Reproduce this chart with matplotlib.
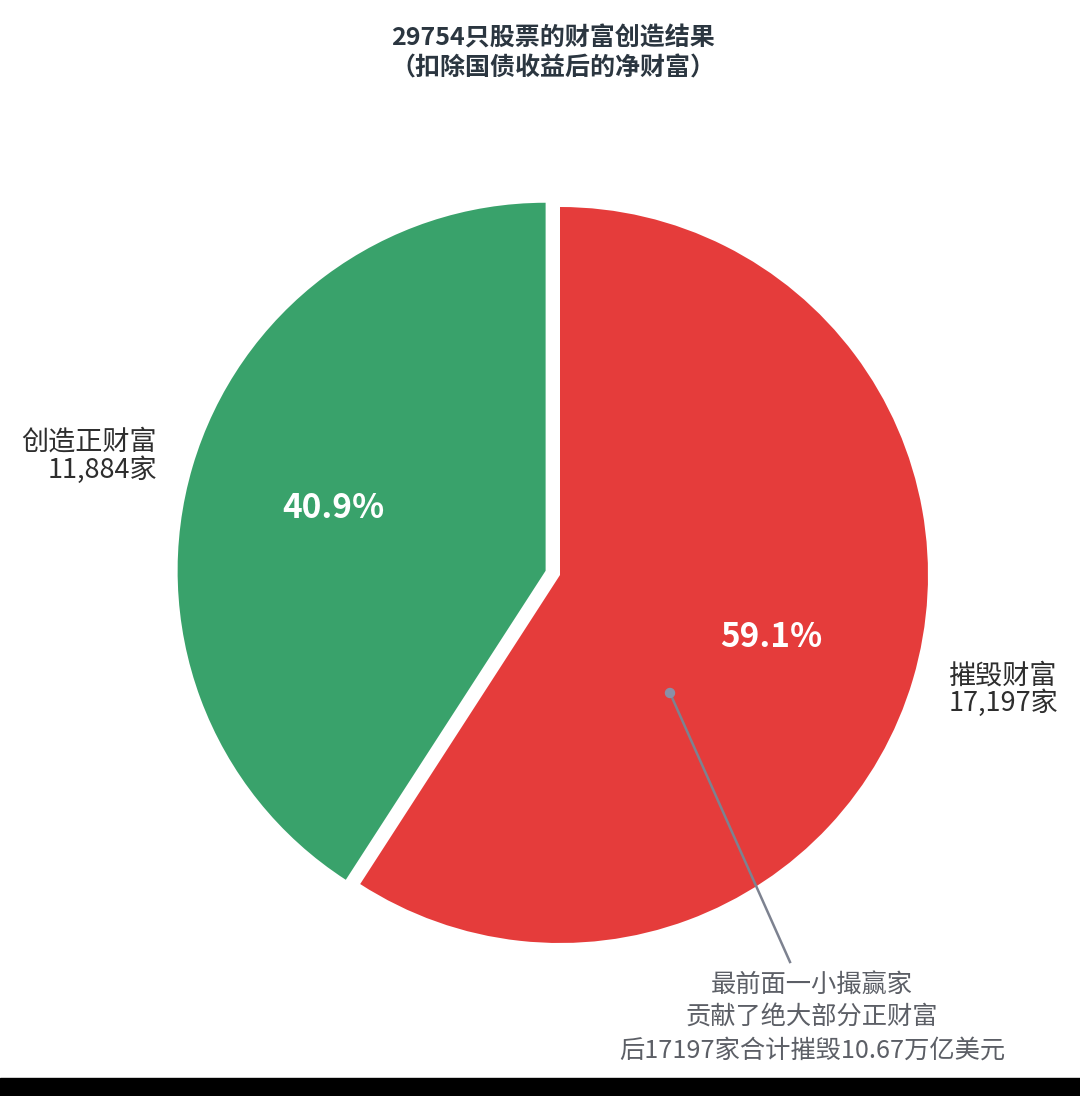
import matplotlib
matplotlib.use("Agg")
import matplotlib.pyplot as plt
from matplotlib.patches import Rectangle, Circle

plt.rcParams['font.family'] = ['Noto Sans CJK SC', 'DejaVu Sans']

# ---- data ----
categories = ["摧毁财富\n17,197家", "创造正财富\n11,884家"]
counts = [17197, 11884]
colors = ["#e53c3b", "#39a26b"]
title_lines = ["29754只股票的财富创造结果", "（扣除国债收益后的净财富）"]
note_lines = ["最前面一小撮赢家", "贡献了绝大部分正财富", "后17197家合计摧毁10.67万亿美元"]

W, H = 1080, 1096
fig = plt.figure(figsize=(W / 100, H / 100), dpi=100)
fig.patch.set_facecolor("white")
ax = fig.add_axes([0, 0, 1, 1])

cx, cy, r = 560, H - 575, 368
wedges, texts, autotexts = ax.pie(
    counts, labels=categories, colors=colors, startangle=90, counterclock=False,
    explode=[0, 15], center=(cx, cy), radius=r,
    autopct="%.1f%%", pctdistance=0.6, labeldistance=1.1,
    textprops=dict(fontsize=19.5, color="#2e2e2e"),
    wedgeprops=dict(linewidth=0),
)
texts[0].set_ha("left")
texts[1].set_ha("right")
for t in texts:
    t.set_linespacing(1.0)
for t in autotexts:
    t.set_color("white")
    t.set_fontsize(24)
    t.set_fontweight("bold")

ax.set_xlim(0, W)
ax.set_ylim(0, H)
ax.set_aspect("auto")
ax.axis("off")

# title
ax.text(553, H - 38, title_lines[0], ha="center", va="center", fontsize=18,
        fontweight="bold", color="#2b3640")
ax.text(553, H - 68, title_lines[1], ha="center", va="center", fontsize=18,
        fontweight="bold", color="#2b3640")

# annotation
ax.plot([670, 790], [H - 693, H - 962], color="#7d8290", lw=1.8, zorder=5)
ax.add_patch(Circle((670, H - 693), 4.5, color="#8a8fa6", zorder=6))
for i, line in enumerate(note_lines):
    ax.text(812, H - 985 - 33 * i, line, ha="center", va="center", fontsize=18.2,
            color="#5c5f66")

# bottom dark band of the screenshot
ax.add_patch(Rectangle((0, 0), W, H - 1078, color="black", zorder=10))

fig.savefig("out.png", dpi=100)
